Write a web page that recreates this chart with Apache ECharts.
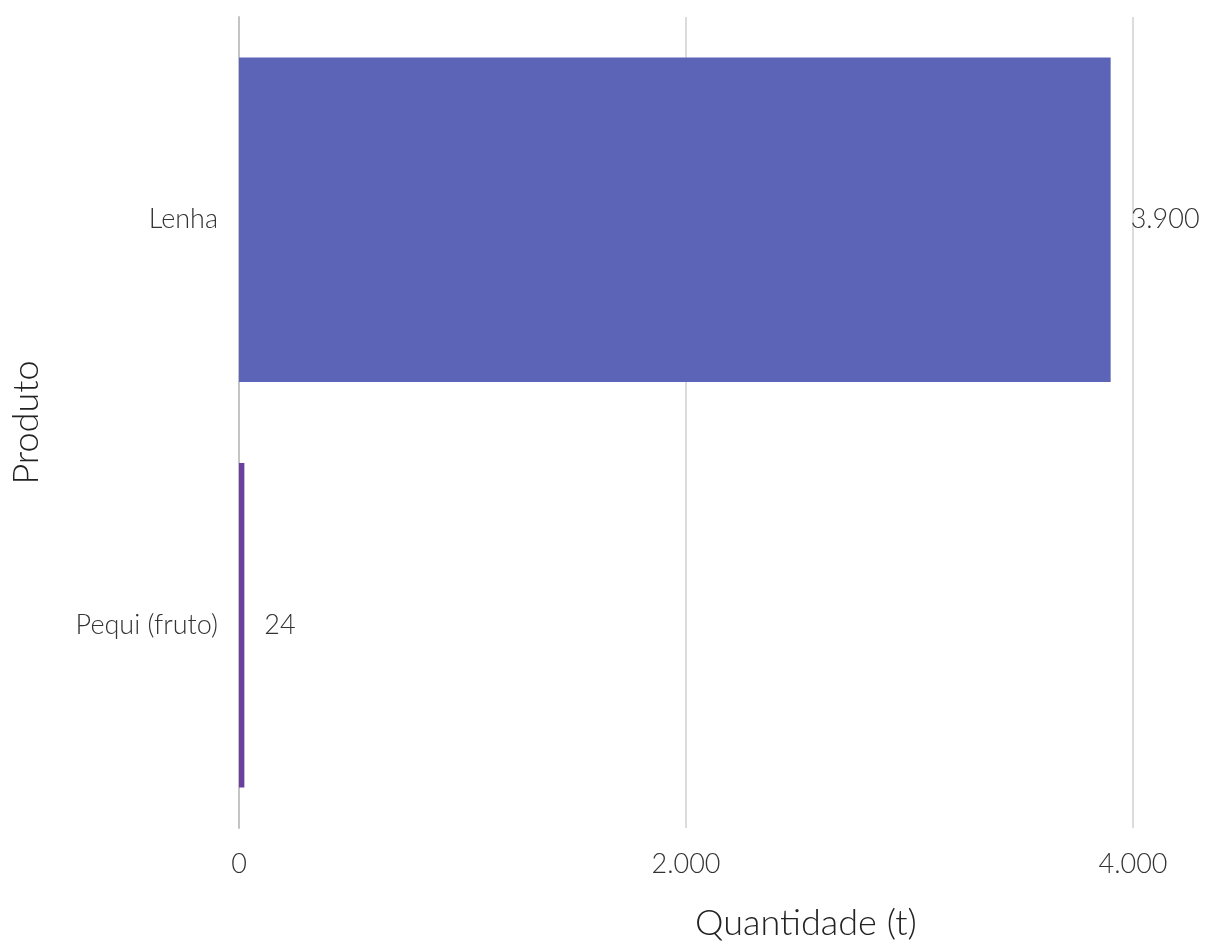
<!DOCTYPE html>
<html>
<head>
<meta charset="utf-8">
<style>
html,body{margin:0;padding:0;background:#fff;}
#chart{width:1206px;height:946px;}
</style>
<script src="https://cdn.jsdelivr.net/npm/echarts@6/dist/echarts.min.js"></script>
</head>
<body>
<div id="chart"></div>
<script>
const categories = ['Lenha', 'Pequi (fruto)'];
const values = [3900, 24];
const barColors = ['#5c64b8', '#6b3f9d'];
const xTicks = [0, 2000, 4000];

const fmt = v => String(v).replace(/\B(?=(\d{3})+(?!\d))/g, '.');
const font = 'Lato';

const chart = echarts.init(document.getElementById('chart'));
chart.setOption({
  backgroundColor: '#ffffff',
  animation: false,
  grid: { left: 239, right: 73, top: 17, bottom: 110, containLabel: false },
  xAxis: {
    type: 'value',
    min: xTicks[0],
    max: xTicks[xTicks.length - 1],
    interval: xTicks[1] - xTicks[0],
    axisLine: { show: false },
    axisTick: { show: false },
    axisLabel: {
      formatter: v => fmt(v),
      fontFamily: font, fontWeight: 300, fontSize: 27, color: '#333',
      margin: 23
    },
    splitLine: { show: true, lineStyle: { color: '#dcdcdc', width: 2 } },
    name: 'Quantidade (t)',
    nameLocation: 'middle',
    nameGap: 77,
    nameTextStyle: { fontFamily: font, fontWeight: 300, fontSize: 36, color: '#222', padding: [0, 0, 0, 240] }
  },
  yAxis: {
    type: 'category',
    data: categories,
    inverse: true,
    axisLine: { show: true, lineStyle: { color: '#c4c4c4', width: 2 } },
    axisTick: { show: false },
    axisLabel: { fontFamily: font, fontWeight: 300, fontSize: 27, color: '#333', margin: 21 },
    name: 'Produto',
    nameLocation: 'middle',
    nameGap: 195,
    nameRotate: 90,
    nameTextStyle: { fontFamily: font, fontWeight: 300, fontSize: 36, color: '#222' }
  },
  series: [{
    type: 'bar',
    data: values.map((v, i) => ({ value: v, itemStyle: { color: barColors[i] } })),
    barCategoryGap: '20%',
    label: {
      show: true,
      position: 'right',
      distance: 20,
      formatter: p => fmt(p.value),
      fontFamily: font, fontWeight: 300, fontSize: 27, color: '#333'
    }
  }]
});
</script>
</body>
</html>
